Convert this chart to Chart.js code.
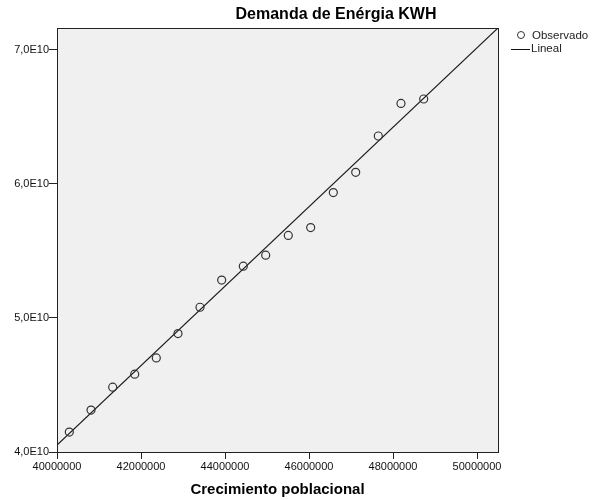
<!DOCTYPE html>
<html>
<head>
<meta charset="utf-8">
<script src="https://cdn.jsdelivr.net/npm/chart.js@4.4.0/dist/chart.umd.min.js"></script>
<style>
  body { margin: 0; background: #fff; }
  #wrap { width: 596px; height: 500px; }
</style>
</head>
<body>
<div id="wrap"><canvas id="chart" width="596" height="500"></canvas></div>
<script>
  // valores
  const poblacion = [40293000, 40810000, 41326000, 41850000, 42364000, 42881000, 43405000, 43921000, 44436000,
    44969000, 45507000, 46040000, 46579000, 47112000, 47650000, 48190000, 48731000];
  const demanda = [4.149e10, 4.313e10, 4.484e10, 4.581e10, 4.702e10, 4.884e10, 5.080e10, 5.283e10, 5.387e10,
    5.469e10, 5.616e10, 5.675e10, 5.936e10, 6.087e10, 6.358e10, 6.601e10, 6.634e10];
  const linealX = [40000000, 50500000];
  const linealY = [4.052e10, 7.164e10];
  const xTicks = [40000000, 42000000, 44000000, 46000000, 48000000, 50000000];
  const yTicks = [4e10, 5e10, 6e10, 7e10];
  const yLabels = ['4,0E10', '5,0E10', '6,0E10', '7,0E10'];

  const font = 'Liberation Sans, Arial, sans-serif';

  const spssBox = {
    id: 'spssBox',
    beforeDraw(chart) {
      const { ctx, chartArea: a } = chart;
      ctx.save();
      ctx.fillStyle = '#f0f0f0';
      ctx.fillRect(a.left, a.top, a.right - a.left, a.bottom - a.top);
      ctx.restore();
    },
    afterDraw(chart) {
      const { ctx, chartArea: a } = chart;
      ctx.save();
      ctx.strokeStyle = '#222';
      ctx.lineWidth = 1;
      ctx.strokeRect(a.left + 0.5, a.top + 0.5, a.right - a.left, a.bottom - a.top);

      // titulo
      ctx.fillStyle = '#000';
      ctx.font = 'bold 16px ' + font;
      ctx.textAlign = 'center';
      ctx.textBaseline = 'middle';
      ctx.fillText('Demanda de Enérgia KWH', 336, 15);

      // leyenda
      ctx.font = '11.5px ' + font;
      ctx.textAlign = 'left';
      ctx.strokeStyle = '#333';
      ctx.beginPath();
      ctx.arc(521, 35, 3.5, 0, Math.PI * 2);
      ctx.stroke();
      ctx.fillStyle = '#222';
      ctx.fillText('Observado', 532, 36);
      ctx.strokeStyle = '#111';
      ctx.beginPath();
      ctx.moveTo(511, 49.5);
      ctx.lineTo(530, 49.5);
      ctx.stroke();
      ctx.fillText('Lineal', 531, 49);
      ctx.restore();
    }
  };

  const ctx = document.getElementById('chart').getContext('2d');
  new Chart(ctx, {
    type: 'scatter',
    data: {
      datasets: [{
        label: 'Observado',
        data: poblacion.map((x, i) => ({ x: x, y: demanda[i] })),
        pointRadius: 4,
        pointBorderWidth: 1.2,
        pointBorderColor: '#333',
        pointBackgroundColor: 'rgba(0,0,0,0)',
        showLine: false
      }, {
        label: 'Lineal',
        data: linealX.map((x, i) => ({ x: x, y: linealY[i] })),
        showLine: true,
        pointRadius: 0,
        borderColor: '#1a1a1a',
        borderWidth: 1.2
      }]
    },
    options: {
      responsive: false,
      animation: false,
      layout: { padding: { left: 0, top: 28, right: 98, bottom: 0 } },
      plugins: {
        legend: { display: false },
        tooltip: { enabled: false }
      },
      scales: {
        x: {
          type: 'linear',
          min: 40000000,
          max: 50500000,
          afterBuildTicks: s => { s.ticks = xTicks.map(v => ({ value: v })); },
          afterFit: s => { s.height = 48; },
          grid: { drawOnChartArea: false, tickLength: 7, color: '#222' },
          border: { color: '#222' },
          ticks: {
            callback: v => String(v),
            color: '#111',
            font: { family: font, size: 11 },
            padding: 1,
            maxRotation: 0,
            autoSkip: false
          },
          title: {
            display: true,
            text: 'Crecimiento poblacional',
            color: '#000',
            font: { family: font, size: 15, weight: 'bold' },
            padding: { top: 4, bottom: 1 }
          }
        },
        y: {
          min: 4e10,
          max: 7.164e10,
          afterBuildTicks: s => { s.ticks = yTicks.map(v => ({ value: v })); },
          afterFit: s => { s.width = 57; },
          grid: { drawOnChartArea: false, tickLength: 8, color: '#222' },
          border: { color: '#222' },
          ticks: {
            callback: v => yLabels[yTicks.indexOf(v)],
            color: '#111',
            font: { family: font, size: 11 },
            padding: 0
          }
        }
      }
    },
    plugins: [spssBox]
  });
</script>
</body>
</html>
